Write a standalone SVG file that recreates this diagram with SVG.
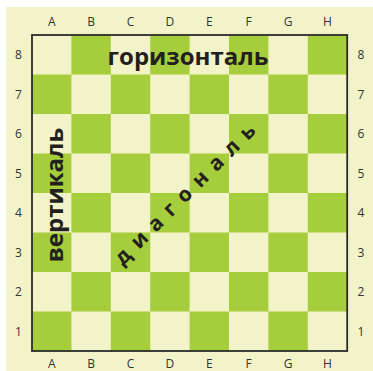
<svg xmlns="http://www.w3.org/2000/svg" width="373" height="371" viewBox="0 0 373 371">
<style>
.g{fill:#a6cd3b}
.lbl{font-family:"Open Sans","Liberation Sans",sans-serif;font-size:12px;fill:#333;text-anchor:middle}
.big{font-family:"Open Sans","Liberation Sans",sans-serif;font-weight:bold;font-size:24px;fill:#231f20;text-anchor:middle}
</style>
<rect x="0" y="0" width="373" height="371" fill="#fff"/>
<rect x="6" y="7" width="367" height="364" fill="#f2f3c9"/>
<g id="board">
<rect x="32" y="35" width="315.2" height="316" fill="#f2f3c9"/>
<rect class="g" x="71.4" y="35" width="39.4" height="39.5"/><rect class="g" x="150.2" y="35" width="39.4" height="39.5"/><rect class="g" x="229" y="35" width="39.4" height="39.5"/><rect class="g" x="307.8" y="35" width="39.4" height="39.5"/>
<rect class="g" x="32" y="74.5" width="39.4" height="39.5"/><rect class="g" x="110.8" y="74.5" width="39.4" height="39.5"/><rect class="g" x="189.6" y="74.5" width="39.4" height="39.5"/><rect class="g" x="268.4" y="74.5" width="39.4" height="39.5"/>
<rect class="g" x="71.4" y="114" width="39.4" height="39.5"/><rect class="g" x="150.2" y="114" width="39.4" height="39.5"/><rect class="g" x="229" y="114" width="39.4" height="39.5"/><rect class="g" x="307.8" y="114" width="39.4" height="39.5"/>
<rect class="g" x="32" y="153.5" width="39.4" height="39.5"/><rect class="g" x="110.8" y="153.5" width="39.4" height="39.5"/><rect class="g" x="189.6" y="153.5" width="39.4" height="39.5"/><rect class="g" x="268.4" y="153.5" width="39.4" height="39.5"/>
<rect class="g" x="71.4" y="193" width="39.4" height="39.5"/><rect class="g" x="150.2" y="193" width="39.4" height="39.5"/><rect class="g" x="229" y="193" width="39.4" height="39.5"/><rect class="g" x="307.8" y="193" width="39.4" height="39.5"/>
<rect class="g" x="32" y="232.5" width="39.4" height="39.5"/><rect class="g" x="110.8" y="232.5" width="39.4" height="39.5"/><rect class="g" x="189.6" y="232.5" width="39.4" height="39.5"/><rect class="g" x="268.4" y="232.5" width="39.4" height="39.5"/>
<rect class="g" x="71.4" y="272" width="39.4" height="39.5"/><rect class="g" x="150.2" y="272" width="39.4" height="39.5"/><rect class="g" x="229" y="272" width="39.4" height="39.5"/><rect class="g" x="307.8" y="272" width="39.4" height="39.5"/>
<rect class="g" x="32" y="311.5" width="39.4" height="39.5"/><rect class="g" x="110.8" y="311.5" width="39.4" height="39.5"/><rect class="g" x="189.6" y="311.5" width="39.4" height="39.5"/><rect class="g" x="268.4" y="311.5" width="39.4" height="39.5"/>
<rect x="32" y="35" width="315.2" height="316" fill="none" stroke="#2b2b2b" stroke-width="1.8"/>
</g>
<g id="labels">
<text class="lbl" x="51.7" y="26">A</text><text class="lbl" x="91.1" y="26">B</text><text class="lbl" x="130.5" y="26">C</text><text class="lbl" x="169.9" y="26">D</text><text class="lbl" x="209.3" y="26">E</text><text class="lbl" x="248.7" y="26">F</text><text class="lbl" x="288.1" y="26">G</text><text class="lbl" x="327.5" y="26">H</text>
<text class="lbl" x="51.7" y="368">A</text><text class="lbl" x="91.1" y="368">B</text><text class="lbl" x="130.5" y="368">C</text><text class="lbl" x="169.9" y="368">D</text><text class="lbl" x="209.3" y="368">E</text><text class="lbl" x="248.7" y="368">F</text><text class="lbl" x="288.1" y="368">G</text><text class="lbl" x="327.5" y="368">H</text>
<text class="lbl" x="18.5" y="59">8</text><text class="lbl" x="18.5" y="98.5">7</text><text class="lbl" x="18.5" y="138">6</text><text class="lbl" x="18.5" y="177.5">5</text><text class="lbl" x="18.5" y="217">4</text><text class="lbl" x="18.5" y="256.5">3</text><text class="lbl" x="18.5" y="296">2</text><text class="lbl" x="18.5" y="335.5">1</text>
<text class="lbl" x="361" y="59">8</text><text class="lbl" x="361" y="98.5">7</text><text class="lbl" x="361" y="138">6</text><text class="lbl" x="361" y="177.5">5</text><text class="lbl" x="361" y="217">4</text><text class="lbl" x="361" y="256.5">3</text><text class="lbl" x="361" y="296">2</text><text class="lbl" x="361" y="335.5">1</text>
</g>
<g id="titles">
<text class="big" x="188" y="65">горизонталь</text>
<text class="big" transform="translate(63,195) rotate(-90)">вертикаль</text>
<text class="big" style="font-size:21px;letter-spacing:9px" transform="translate(193,196) rotate(-45)">диагональ</text>
</g>
</svg>
